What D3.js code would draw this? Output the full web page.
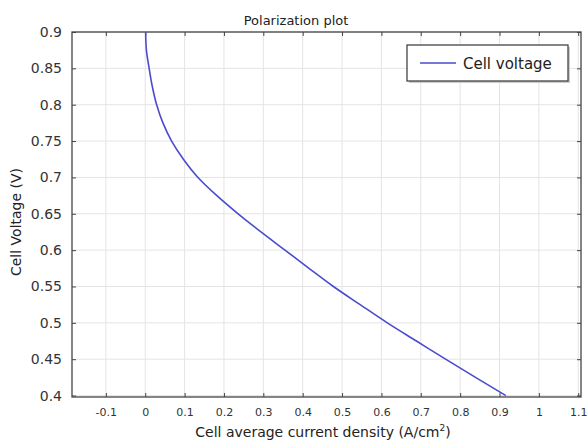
<!DOCTYPE html>
<html><head><meta charset="utf-8">
<script src="https://cdn.jsdelivr.net/npm/d3@7"></script>
<style>body{margin:0;background:#fff;} text{font-family:"DejaVu Sans",sans-serif;}</style>
</head><body>
<svg id="c" width="588" height="448"></svg>
<script>
const current = [0.001, 0.003, 0.010, 0.018, 0.029, 0.045, 0.067, 0.097, 0.134, 0.182, 0.236, 0.294, 0.355, 0.416, 0.478, 0.546, 0.615, 0.689, 0.763, 0.839, 0.916];
const voltage = [0.9, 0.875, 0.85, 0.825, 0.8, 0.775, 0.75, 0.725, 0.7, 0.675, 0.65, 0.625, 0.6, 0.575, 0.55, 0.525, 0.5, 0.475, 0.45, 0.425, 0.4];
const xTicks = [-0.1, 0, 0.1, 0.2, 0.3, 0.4, 0.5, 0.6, 0.7, 0.8, 0.9, 1, 1.1];
const yTicks = [0.4, 0.45, 0.5, 0.55, 0.6, 0.65, 0.7, 0.75, 0.8, 0.85, 0.9];
const xLabels = ["-0.1","0","0.1","0.2","0.3","0.4","0.5","0.6","0.7","0.8","0.9","1","1.1"];
const yLabels = ["0.4","0.45","0.5","0.55","0.6","0.65","0.7","0.75","0.8","0.85","0.9"];
const seriesName = "Cell voltage";

const svg = d3.select("#c");
const L = 72, R = 581, T = 32, B = 397;
const x = d3.scaleLinear().domain([-0.186, 1.107]).range([L, R]);
const y = d3.scaleLinear().domain([0.398, 0.9]).range([B, T]);

// grid
svg.append("g").selectAll("line").data(xTicks).join("line")
  .attr("x1", d => x(d)).attr("x2", d => x(d)).attr("y1", T).attr("y2", B)
  .attr("stroke", "#e4e4e4").attr("stroke-width", 1);
svg.append("g").selectAll("line").data(yTicks).join("line")
  .attr("y1", d => y(d)).attr("y2", d => y(d)).attr("x1", L).attr("x2", R)
  .attr("stroke", "#e4e4e4").attr("stroke-width", 1);

// axes
const ax = (g) => g.selectAll(".domain").remove();
svg.append("g").attr("transform", `translate(0,${B})`)
  .call(d3.axisBottom(x).tickValues(xTicks).tickFormat((d,i) => xLabels[i]).tickSizeInner(-4).tickSizeOuter(0).tickPadding(11))
  .call(ax).call(g => { g.selectAll("line").attr("stroke", "#444"); g.selectAll("text").attr("font-size", 11).attr("fill", "#333"); });
svg.append("g").attr("transform", `translate(0,${T})`)
  .call(d3.axisTop(x).tickValues(xTicks).tickFormat("").tickSizeInner(-4).tickSizeOuter(0))
  .call(ax).call(g => g.selectAll("line").attr("stroke", "#444"));
svg.append("g").attr("transform", `translate(${L},0)`)
  .call(d3.axisLeft(y).tickValues(yTicks).tickFormat((d,i) => yLabels[i]).tickSizeInner(-4).tickSizeOuter(0).tickPadding(10))
  .call(ax).call(g => { g.selectAll("line").attr("stroke", "#444"); g.selectAll("text").attr("font-size", 14).attr("fill", "#333"); });
svg.append("g").attr("transform", `translate(${R},0)`)
  .call(d3.axisRight(y).tickValues(yTicks).tickFormat("").tickSizeInner(-4).tickSizeOuter(0))
  .call(ax).call(g => g.selectAll("line").attr("stroke", "#444"));

svg.append("rect").attr("x", L).attr("y", T).attr("width", R - L).attr("height", B - T)
  .attr("fill", "none").attr("stroke", "#444").attr("stroke-width", 1.3);

// line
const pts = current.map((c, i) => [c, voltage[i]]);
svg.append("path").datum(pts)
  .attr("d", d3.line().x(d => x(d[0])).y(d => y(d[1])).curve(d3.curveMonotoneY))
  .attr("fill", "none").attr("stroke", "#4b4bcf").attr("stroke-width", 1.6);

// title & labels
svg.append("text").attr("x", 296).attr("y", 25).attr("text-anchor", "middle").attr("font-size", 13).attr("fill", "#222").text("Polarization plot");
svg.append("text").attr("x", 323).attr("y", 437).attr("text-anchor", "middle").attr("font-size", 14).attr("fill", "#222")
  .html('Cell average current density (A/cm<tspan dy="-6" font-size="9">2</tspan><tspan dy="6">)</tspan>');
svg.append("text").attr("transform", "translate(21,222) rotate(-90)").attr("text-anchor", "middle").attr("font-size", 14).attr("fill", "#222").text("Cell Voltage (V)");

// legend
const lg = svg.append("g");
lg.append("rect").attr("x", 409).attr("y", 47).attr("width", 161).attr("height", 36).attr("fill", "#ccc");
lg.append("rect").attr("x", 407).attr("y", 45).attr("width", 161).attr("height", 36).attr("fill", "#fff").attr("stroke", "#444").attr("stroke-width", 1.3);
lg.append("line").attr("x1", 420).attr("x2", 456).attr("y1", 63).attr("y2", 63).attr("stroke", "#4b4bcf").attr("stroke-width", 1.6);
lg.append("text").attr("x", 463).attr("y", 69).attr("font-size", 15).attr("fill", "#222").text(seriesName);
</script>
</body></html>
